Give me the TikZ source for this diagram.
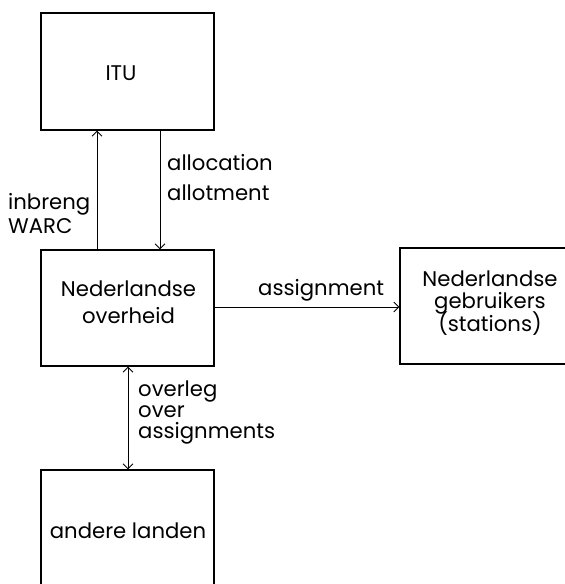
\documentclass[tikz,border=0pt]{standalone}
\usepackage{fontspec}
\setmainfont{Poppins}
\usetikzlibrary{arrows.meta}
\begin{document}
\begin{tikzpicture}[x=1pt,y=-1pt,
  box/.style={draw,line width=1.2pt,minimum width=173pt,inner sep=0pt},
  txt/.style={inner sep=0pt,font=\fontsize{21.2}{24}\selectfont},
  conn/.style={line width=0.9pt,-{Straight Barb[length=5pt,width=10pt]}},
  conn2/.style={line width=0.9pt,{Straight Barb[length=5pt,width=10pt]}-{Straight Barb[length=5pt,width=10pt]}}]
\useasboundingbox (0,0) rectangle (565,584);
\begin{scope}
\clip (0,0) rectangle (565,584);
\node[box,minimum height=117pt] (itu) at (127.5,71.5) {};
\node[box,minimum height=116pt] (ovh) at (127.5,308) {};
\node[box,minimum width=180pt,minimum height=116pt] (geb) at (490,306) {};
\node[box,minimum height=140pt] (and) at (127.5,540) {};
\end{scope}
\node[txt,anchor=base] (t1) at (121,80) {ITU};
\node[txt,anchor=base] (t2) at (128.5,296) {Nederlandse};
\node[txt,anchor=base] (t3) at (128.5,323) {overheid};
\node[txt,anchor=base] (t4) at (490,286) {Nederlandse};
\node[txt,anchor=base] (t5) at (490,308) {gebruikers};
\node[txt,anchor=base] (t6) at (490,331) {(stations)};
\node[txt,anchor=base] (t7) at (128,538) {andere landen};
\coordinate (xa) at (97,0);
\coordinate (xb) at (160,0);
\coordinate (xc) at (128,0);
\coordinate (yh) at (0,307);
\draw[conn] (ovh.north -| xa) -- (itu.south -| xa);
\draw[conn] (itu.south -| xb) -- (ovh.north -| xb);
\draw[conn] (ovh.east |- yh) -- (geb.west |- yh);
\draw[conn2] (ovh.south -| xc) -- (and.north -| xc);
\node[txt,anchor=base west] (l1) at (167,170) {allocation};
\node[txt,anchor=base west] (l2) at (167,200) {allotment};
\node[txt,anchor=base west] (l3) at (8,209) {inbreng};
\node[txt,anchor=base west] (l4) at (8,233) {WARC};
\node[txt,anchor=base west] (l5) at (258,295) {assignment};
\node[txt,anchor=base west] (l6) at (138,396) {overleg};
\node[txt,anchor=base west] (l7) at (138,417) {over};
\node[txt,anchor=base west] (l8) at (138,438) {assignments};
\end{tikzpicture}
\end{document}
